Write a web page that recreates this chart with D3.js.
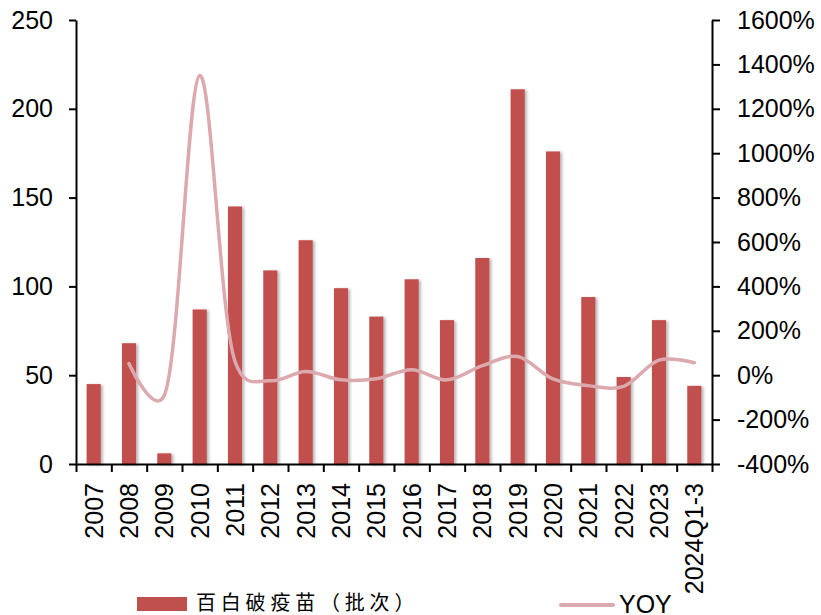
<!DOCTYPE html>
<html>
<head>
<meta charset="utf-8">
<script src="https://cdn.jsdelivr.net/npm/d3@7"></script>
<style>
  body { margin: 0; background: #fff; }
  .chart text { font-family: "Liberation Sans", Arial, sans-serif; fill: #000; }
  .axis path, .axis line { stroke: #000; stroke-width: 2; }
</style>
</head>
<body>
<div class="chart"></div>
<script>
// data
const years = ['2007', '2008', '2009', '2010', '2011', '2012', '2013', '2014', '2015',
  '2016', '2017', '2018', '2019', '2020', '2021', '2022', '2023', '2024Q1-3']
const batches = [45, 68, 6, 87, 145, 109, 126, 99, 83, 104, 81, 116, 211, 176, 94, 49, 81, 44]
// YOY in percent (no value for 2007)
const yoy = [null, 52, -90, 1350, 62, -25, 17, -21, -16, 25, -21, 43, 84, -17, -47, -50, 68, 56]
const leftTicks = [0, 50, 100, 150, 200, 250]
const rightTicks = [-400, -200, 0, 200, 400, 600, 800, 1000, 1200, 1400, 1600]

const width = 821
const height = 615
const plot = { left: 76, right: 712, top: 20, bottom: 464 }

const barColor = '#c0504d'
const lineColor = '#dca9af'

const svg = d3.select('.chart')
  .append('svg')
  .attr('width', width)
  .attr('height', height)

// soft shadow behind the bars
const defs = svg.append('defs')
const shadow = defs.append('filter')
  .attr('id', 'shadow')
  .attr('x', '-50%').attr('y', '-5%')
  .attr('width', '200%').attr('height', '110%')
shadow.append('feDropShadow')
  .attr('dx', 2).attr('dy', 1)
  .attr('stdDeviation', 1.5)
  .attr('flood-color', '#000')
  .attr('flood-opacity', 0.3)

const xScale = d3.scaleBand()
  .domain(years)
  .range([plot.left, plot.right])
  .paddingInner(0.6)
  .paddingOuter(0.3)

// category boundaries for the bottom ticks
const xEdges = d3.scaleLinear()
  .domain([0, years.length])
  .range([plot.left, plot.right])

const yLeft = d3.scaleLinear()
  .domain([0, 250])
  .range([plot.bottom, plot.top])

const yRight = d3.scaleLinear()
  .domain([-400, 1600])
  .range([plot.bottom, plot.top])

// Bars
svg.append('g')
  .attr('filter', 'url(#shadow)')
  .selectAll('rect')
  .data(batches)
  .enter()
  .append('rect')
  .attr('x', (d, i) => xScale(years[i]))
  .attr('y', d => yLeft(d))
  .attr('width', xScale.bandwidth())
  .attr('height', d => yLeft(0) - yLeft(d))
  .attr('fill', barColor)

// YOY line, smoothed like the spreadsheet original
const line = d3.line()
  .defined(d => d != null)
  .x((d, i) => xScale(years[i]) + xScale.bandwidth() / 2)
  .y(d => yRight(d))
  .curve(d3.curveCatmullRom.alpha(0.2))

svg.append('path')
  .datum(yoy)
  .attr('d', line)
  .attr('fill', 'none')
  .attr('stroke', lineColor)
  .attr('stroke-width', 3.5)
  .attr('stroke-linecap', 'round')

// Left axis
const leftAxis = svg.append('g')
  .attr('class', 'axis')
  .attr('transform', `translate(${plot.left}, 0)`)
  .call(d3.axisLeft(yLeft).tickValues(leftTicks).tickSize(7).tickSizeOuter(0).tickPadding(16))
leftAxis.selectAll('text').style('font-size', '25px')

// Right axis
const rightAxis = svg.append('g')
  .attr('class', 'axis')
  .attr('transform', `translate(${plot.right}, 0)`)
  .call(d3.axisRight(yRight).tickValues(rightTicks).tickFormat(d => d + '%')
    .tickSize(8).tickSizeOuter(0).tickPadding(17))
rightAxis.selectAll('text').style('font-size', '25px')

// Bottom axis: ticks between categories
svg.append('g')
  .attr('class', 'axis')
  .attr('transform', `translate(0, ${plot.bottom})`)
  .call(d3.axisBottom(xEdges).tickValues(d3.range(years.length + 1)).tickFormat('')
    .tickSize(8).tickSizeOuter(0))

// Category labels, rotated
svg.append('g')
  .selectAll('text')
  .data(years)
  .enter()
  .append('text')
  .attr('transform', d => `translate(${xScale(d) + xScale.bandwidth() / 2}, 483) rotate(-90)`)
  .attr('dy', '0.36em')
  .attr('text-anchor', 'end')
  .style('font-size', '25px')
  .text(d => d)

// Legend
const legend = svg.append('g')
legend.append('rect')
  .attr('x', 137).attr('y', 597)
  .attr('width', 50).attr('height', 14)
  .attr('fill', barColor)
legend.append('text')
  .attr('x', 196).attr('y', 610)
  .style('font-family', '"Noto Sans CJK SC", sans-serif')
  .style('font-size', '20px')
  .style('letter-spacing', '4.8px')
  .text('百白破疫苗（批次）')
legend.append('line')
  .attr('x1', 561).attr('x2', 613)
  .attr('y1', 605).attr('y2', 605)
  .attr('stroke', lineColor)
  .attr('stroke-width', 4)
  .attr('stroke-linecap', 'round')
legend.append('text')
  .attr('x', 619).attr('y', 613)
  .style('font-size', '25px')
  .text('YOY')
</script>
</body>
</html>
